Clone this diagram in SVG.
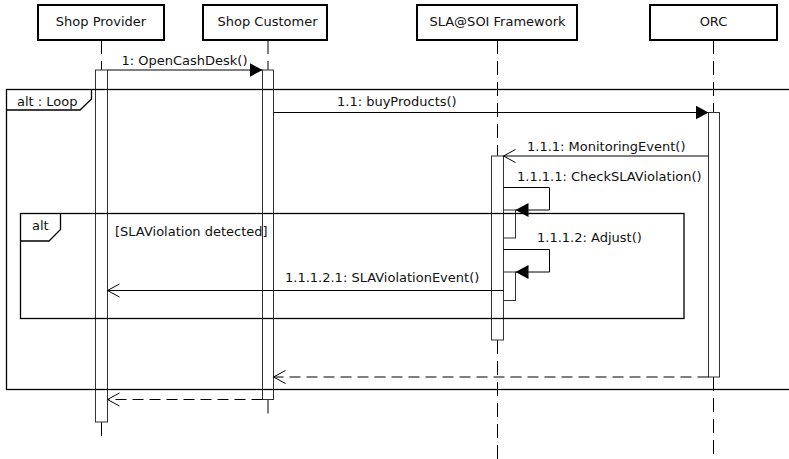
<svg xmlns="http://www.w3.org/2000/svg" width="789" height="459" viewBox="0 0 789 459">
<defs>
<style>
text{font-family:"DejaVu Sans","Liberation Sans",sans-serif;font-size:13px;fill:#111;}
.head{fill:#fff;stroke:#000;stroke-width:2;}
.life{stroke:#000;stroke-width:1;stroke-dasharray:14 7;fill:none;}
.act{fill:#fff;stroke:#333;stroke-width:1;}
.frame{fill:none;stroke:#000;stroke-width:1.3;}
.msg{fill:none;stroke:#000;stroke-width:1;}
.ret{fill:none;stroke:#000;stroke-width:1;stroke-dasharray:11 6;}
.mid{text-anchor:middle;}
</style>
<marker id="filled" viewBox="0 0 13 14" refX="13" refY="7" markerWidth="13" markerHeight="14" markerUnits="userSpaceOnUse" orient="auto">
<path d="M0,0 L13,7 L0,14 z" fill="#000"/>
</marker>
<marker id="open" viewBox="-1 -1 15 15" refX="12" refY="6.5" markerWidth="15" markerHeight="15" markerUnits="userSpaceOnUse" orient="auto">
<path d="M0,0 L12,6.5 L0,13" fill="none" stroke="#000" stroke-width="1"/>
</marker>
</defs>
<rect width="789" height="459" fill="#fff"/>

<g id="shop-provider">
<rect class="head" x="38" y="5" width="126" height="35"/>
<text class="mid" x="101" y="26">Shop Provider</text>
<line class="life" x1="101.5" y1="40" x2="101.5" y2="70"/>
<line class="life" x1="101.5" y1="422" x2="101.5" y2="442"/>
<rect class="act" x="95.5" y="70" width="12" height="352"/>
</g>

<g id="shop-customer">
<rect class="head" x="203" y="5" width="124" height="35"/>
<text class="mid" x="267.5" y="26">Shop Customer</text>
<line class="life" x1="268" y1="40" x2="268" y2="70"/>
<line class="life" x1="268" y1="399.5" x2="268" y2="418"/>
<rect class="act" x="262.5" y="70" width="11" height="329.5"/>
</g>

<g id="sla-soi-framework">
<rect class="head" x="417" y="5" width="160" height="35"/>
<text class="mid" x="497.5" y="26">SLA@SOI Framework</text>
<line class="life" x1="497.5" y1="40" x2="497.5" y2="156"/>
<line class="life" x1="497.5" y1="340" x2="497.5" y2="459"/>
<rect class="act" x="491.5" y="156" width="12" height="184"/>
<rect class="act" x="503.5" y="210" width="12" height="28"/>
<rect class="act" x="503.5" y="272" width="12" height="28.5"/>
</g>

<g id="orc">
<rect class="head" x="650" y="5" width="127" height="35"/>
<text class="mid" x="713.5" y="26">ORC</text>
<line class="life" x1="713.5" y1="40" x2="713.5" y2="112.5"/>
<line class="life" x1="713.5" y1="377" x2="713.5" y2="459"/>
<rect class="act" x="708.5" y="112.5" width="11" height="264.5"/>
</g>

<g id="frame-loop">
<rect class="frame" x="6.5" y="89.5" width="800" height="300"/>
<path class="frame" d="M6.5,110 H80 L91.5,99 V89.5"/>
<text x="17" y="105.5">alt : Loop</text>
</g>

<g id="frame-alt">
<rect class="frame" x="20.5" y="213.5" width="663.5" height="105"/>
<path class="frame" d="M20.5,241 H49 L60.5,229.5 V213.5"/>
<text x="32" y="230">alt</text>
<text x="115" y="235.5">[SLAViolation detected]</text>
</g>

<g id="connectors">
<line class="msg" x1="107.5" y1="70" x2="262.5" y2="70" marker-end="url(#filled)"/>
<text x="121.5" y="65">1: OpenCashDesk()</text>

<line class="msg" x1="273.5" y1="112.5" x2="708.5" y2="112.5" marker-end="url(#filled)"/>
<text x="337" y="106">1.1: buyProducts()</text>

<line class="msg" x1="708.5" y1="156" x2="503.5" y2="156" marker-end="url(#open)"/>
<text x="527" y="150.5">1.1.1: MonitoringEvent()</text>

<path class="msg" d="M503.5,187.5 H549.5 V210 H515.5" marker-end="url(#filled)"/>
<text x="517" y="180.5">1.1.1.1: CheckSLAViolation()</text>

<path class="msg" d="M503.5,249.5 H549.5 V272 H515.5" marker-end="url(#filled)"/>
<text x="537" y="242">1.1.1.2: Adjust()</text>

<line class="msg" x1="503.5" y1="290.5" x2="107.5" y2="290.5" marker-end="url(#open)"/>
<text x="285" y="281.5">1.1.1.2.1: SLAViolationEvent()</text>

<line class="ret" x1="708.5" y1="377" x2="273.5" y2="377" marker-end="url(#open)"/>
<line class="ret" x1="262.5" y1="399.5" x2="107.5" y2="399.5" marker-end="url(#open)"/>
</g>
</svg>
